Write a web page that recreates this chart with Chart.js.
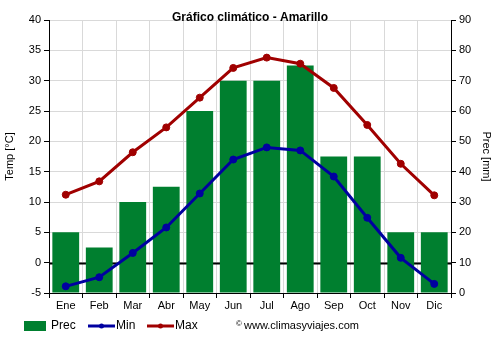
<!DOCTYPE html>
<html>
<head>
<meta charset="utf-8">
<script src="https://cdn.jsdelivr.net/npm/chart.js@4.4.1/dist/chart.umd.min.js"></script>
<style>
  html, body { margin: 0; padding: 0; background: #fff; }
  #wrap { width: 500px; height: 350px; }
</style>
</head>
<body>
<div id="wrap"><canvas id="climateChart" width="500" height="350"></canvas></div>
<script>
const months = ['Ene', 'Feb', 'Mar', 'Abr', 'May', 'Jun', 'Jul', 'Ago', 'Sep', 'Oct', 'Nov', 'Dic'];
const precip = [20, 15, 30, 35, 60, 70, 70, 75, 45, 45, 20, 20];
const tempMin = [-3.9, -2.4, 1.6, 5.8, 11.4, 17.0, 19.0, 18.5, 14.2, 7.4, 0.8, -3.5];
const tempMax = [11.2, 13.4, 18.2, 22.3, 27.2, 32.1, 33.8, 32.8, 28.8, 22.7, 16.3, 11.1];
const tempTicks = [-5, 40, 5];
const precTicks = [0, 90, 10];

const FONT = 'Arial, "Liberation Sans", sans-serif';
const GREEN = '#007f2f';
const BLUE = '#0000a0';
const RED = '#a00000';

// title, zero line, legend and credit drawn straight on the canvas
const extras = {
    id: 'extras',
    beforeDatasetsDraw(chart) {
        const ctx = chart.ctx;
        const y = chart.scales.y;
        const area = chart.chartArea;
        const y0 = Math.round(y.getPixelForValue(0)) + 0.5;
        ctx.save();
        ctx.strokeStyle = '#000';
        ctx.lineWidth = 2;
        ctx.beginPath();
        ctx.moveTo(area.left, y0);
        ctx.lineTo(area.right, y0);
        ctx.stroke();
        ctx.restore();
    },
    afterDraw(chart) {
        const ctx = chart.ctx;
        ctx.save();
        ctx.fillStyle = '#000';
        ctx.font = 'bold 12px ' + FONT;
        ctx.textAlign = 'center';
        ctx.textBaseline = 'middle';
        ctx.fillText('Gráfico climático - Amarillo', 250, 18);

        const ly = 326;
        ctx.font = '12px ' + FONT;
        ctx.textAlign = 'left';
        // Prec
        ctx.fillStyle = GREEN;
        ctx.fillRect(24, ly - 5, 22, 10);
        ctx.fillStyle = '#000';
        ctx.fillText('Prec', 51, ly);
        // Min / Max
        [[BLUE, 88, 'Min'], [RED, 147, 'Max']].forEach(([c, x, t]) => {
            ctx.strokeStyle = c;
            ctx.lineWidth = 3;
            ctx.beginPath();
            ctx.moveTo(x, ly);
            ctx.lineTo(x + 27, ly);
            ctx.stroke();
            ctx.fillStyle = c;
            ctx.beginPath();
            ctx.arc(x + 13.5, ly, 2.5, 0, Math.PI * 2);
            ctx.fill();
            ctx.fillStyle = '#000';
            ctx.fillText(t, x + 28, ly);
        });
        ctx.font = '8px ' + FONT;
        ctx.fillText('©', 236, ly - 2);
        ctx.font = '11px ' + FONT;
        ctx.fillText('www.climasyviajes.com', 244, ly);
        ctx.restore();
    }
};

const ctx = document.getElementById('climateChart').getContext('2d');
new Chart(ctx, {
    data: {
        labels: months,
        datasets: [
            {
                type: 'line',
                label: 'Max',
                data: tempMax,
                yAxisID: 'y',
                borderColor: RED,
                backgroundColor: RED,
                borderWidth: 3,
                pointRadius: 3.5,
                pointBorderWidth: 1,
                pointHoverRadius: 3.5,
                tension: 0,
                order: 1
            },
            {
                type: 'line',
                label: 'Min',
                data: tempMin,
                yAxisID: 'y',
                borderColor: BLUE,
                backgroundColor: BLUE,
                borderWidth: 3,
                pointRadius: 3.5,
                pointBorderWidth: 1,
                pointHoverRadius: 3.5,
                tension: 0,
                order: 2
            },
            {
                type: 'bar',
                label: 'Prec',
                data: precip,
                yAxisID: 'y1',
                backgroundColor: GREEN,
                barPercentage: 1,
                categoryPercentage: 0.8,
                order: 3
            }
        ]
    },
    plugins: [extras],
    options: {
        responsive: false,
        animation: false,
        layout: { padding: { top: 20, left: 3, right: 7, bottom: 0 } },
        plugins: {
            legend: { display: false },
            title: { display: false },
            tooltip: { enabled: false }
        },
        scales: {
            x: {
                offset: true,
                grid: {
                    offset: true,
                    color: '#d9d9d9',
                    tickColor: '#000',
                    tickLength: 5
                },
                border: { color: '#000', width: 1 },
                ticks: { color: '#000', font: { family: FONT, size: 11 }, padding: 1 },
                afterFit(scale) { scale.height = 57; }
            },
            y: {
                position: 'left',
                min: tempTicks[0],
                max: tempTicks[1],
                ticks: { stepSize: tempTicks[2], color: '#000', font: { family: FONT, size: 11 }, padding: 3 },
                grid: { color: '#d9d9d9', tickColor: '#000', tickLength: 5 },
                border: { color: '#000', width: 1 },
                title: { display: true, text: 'Temp [°C]', color: '#000', font: { family: FONT, size: 11 }, padding: 0 },
                afterFit(scale) { scale.width = 46; }
            },
            y1: {
                position: 'right',
                min: precTicks[0],
                max: precTicks[1],
                ticks: { stepSize: precTicks[2], color: '#000', font: { family: FONT, size: 11 }, padding: 3 },
                grid: { drawOnChartArea: false, tickColor: '#000', tickLength: 5 },
                border: { color: '#000', width: 1 },
                title: { display: true, text: 'Prec [mm]', color: '#000', font: { family: FONT, size: 11 }, padding: 0 },
                afterFit(scale) { scale.width = 42; }
            }
        }
    }
});
</script>
</body>
</html>
